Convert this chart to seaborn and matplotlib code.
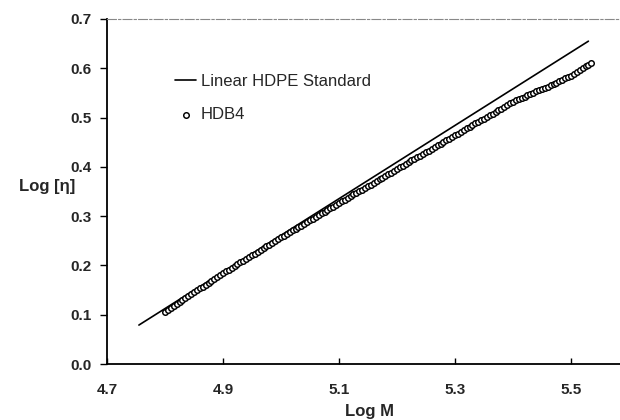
import matplotlib
matplotlib.use("Agg")
import matplotlib.pyplot as plt
import seaborn as sns
import pandas as pd

# Linear HDPE standard line (end points)
std_log_m = [4.755, 5.530]
std_log_eta = [0.079, 0.655]

# HDB4 measured points
hdb4_log_m = [
    4.800, 4.805, 4.810, 4.815, 4.820, 4.825, 4.830, 4.835, 4.840, 4.845,
    4.850, 4.855, 4.860, 4.865, 4.870, 4.875, 4.880, 4.885, 4.890, 4.895,
    4.900, 4.905, 4.910, 4.915, 4.920, 4.925, 4.930, 4.935, 4.940, 4.945,
    4.950, 4.955, 4.960, 4.965, 4.970, 4.975, 4.980, 4.985, 4.990, 4.995,
    5.000, 5.005, 5.010, 5.015, 5.020, 5.025, 5.030, 5.035, 5.040, 5.045,
    5.050, 5.055, 5.060, 5.065, 5.070, 5.075, 5.080, 5.085, 5.090, 5.095,
    5.100, 5.105, 5.110, 5.115, 5.120, 5.125, 5.130, 5.135, 5.140, 5.145,
    5.150, 5.155, 5.160, 5.165, 5.170, 5.175, 5.180, 5.185, 5.190, 5.195,
    5.200, 5.205, 5.210, 5.215, 5.220, 5.225, 5.230, 5.235, 5.240, 5.245,
    5.250, 5.255, 5.260, 5.265, 5.270, 5.275, 5.280, 5.285, 5.290, 5.295,
    5.300, 5.305, 5.310, 5.315, 5.320, 5.325, 5.330, 5.335, 5.340, 5.345,
    5.350, 5.355, 5.360, 5.365, 5.370, 5.375, 5.380, 5.385, 5.390, 5.395,
    5.400, 5.405, 5.410, 5.415, 5.420, 5.425, 5.430, 5.435, 5.440, 5.445,
    5.450, 5.455, 5.460, 5.465, 5.470, 5.475, 5.480, 5.485, 5.490, 5.495,
    5.500, 5.505, 5.510, 5.515, 5.520, 5.525, 5.530, 5.535,
]
hdb4_log_eta = [
    0.106, 0.110, 0.114, 0.118, 0.122, 0.126, 0.130, 0.134, 0.138, 0.142,
    0.146, 0.150, 0.154, 0.157, 0.161, 0.165, 0.169, 0.173, 0.176, 0.180,
    0.184, 0.188, 0.191, 0.195, 0.199, 0.202, 0.206, 0.210, 0.213, 0.217,
    0.221, 0.224, 0.228, 0.232, 0.235, 0.239, 0.242, 0.246, 0.250, 0.253,
    0.257, 0.260, 0.264, 0.267, 0.271, 0.274, 0.278, 0.281, 0.285, 0.288,
    0.292, 0.295, 0.299, 0.302, 0.306, 0.309, 0.312, 0.316, 0.319, 0.323,
    0.326, 0.330, 0.333, 0.337, 0.340, 0.344, 0.347, 0.351, 0.354, 0.358,
    0.361, 0.364, 0.368, 0.371, 0.375, 0.378, 0.381, 0.385, 0.388, 0.392,
    0.395, 0.399, 0.402, 0.406, 0.409, 0.413, 0.416, 0.420, 0.423, 0.427,
    0.430, 0.433, 0.437, 0.440, 0.444, 0.447, 0.450, 0.454, 0.457, 0.461,
    0.464, 0.467, 0.471, 0.474, 0.478, 0.481, 0.484, 0.488, 0.491, 0.495,
    0.498, 0.501, 0.505, 0.508, 0.512, 0.515, 0.518, 0.522, 0.525, 0.529,
    0.532, 0.535, 0.537, 0.540, 0.542, 0.545, 0.548, 0.550, 0.553, 0.555,
    0.558, 0.561, 0.563, 0.566, 0.569, 0.571, 0.574, 0.577, 0.580, 0.582,
    0.585, 0.589, 0.593, 0.596, 0.600, 0.604, 0.607, 0.611,
]

x_ticks = [4.7, 4.9, 5.1, 5.3, 5.5]
y_ticks = [0.0, 0.1, 0.2, 0.3, 0.4, 0.5, 0.6, 0.7]
x_label = "Log M"
y_label = "Log [η]"
std_name = "Linear HDPE Standard"
hdb4_name = "HDB4"

sns.set_theme(style="white")
plt.rcParams["font.family"] = ["Liberation Sans", "DejaVu Sans"]

fig = plt.figure(figsize=(6.2, 4.2), dpi=100)
ax = fig.add_axes([107 / 620, 1 - 364 / 420, 513 / 620, 345 / 420])

std_df = pd.DataFrame({"x": std_log_m, "y": std_log_eta})
hdb_df = pd.DataFrame({"x": hdb4_log_m, "y": hdb4_log_eta})

sns.lineplot(data=std_df, x="x", y="y", ax=ax, color="black", linewidth=1.2,
             label=std_name, legend=False)
sns.scatterplot(data=hdb_df, x="x", y="y", ax=ax, marker="o", s=16,
                facecolor="white", edgecolor="black", linewidth=1.05,
                label=hdb4_name, legend=False, zorder=3)

ax.set_xlim(4.7, 4.7 + 513 / 580)
ax.set_ylim(0.0, 0.7)
ax.set_xticks(x_ticks)
ax.set_yticks(y_ticks)
ax.set_xticklabels([f"{v:.1f}" for v in x_ticks], fontweight="bold", fontsize=11)
ax.set_yticklabels([f"{v:.1f}" for v in y_ticks], fontweight="bold", fontsize=11)
ax.tick_params(axis="x", direction="in", length=4, width=1, color="black", pad=14, bottom=True)
ax.tick_params(axis="y", direction="out", length=5, width=1, color="black", pad=6, left=True)

for side in ["left", "bottom"]:
    ax.spines[side].set_color("black")
    ax.spines[side].set_linewidth(1.3)
ax.spines["right"].set_visible(False)
ax.spines["top"].set_color("#888888")
ax.spines["top"].set_linewidth(0.8)
ax.spines["top"].set_linestyle((0, (8, 2, 2, 2)))

ax.set_xlabel(x_label, fontweight="bold", fontsize=12)
ax.xaxis.set_label_coords(0.512, -0.137)
ax.xaxis.label.set_va("center")
ax.set_ylabel(y_label, fontweight="bold", fontsize=12, rotation=0, ha="right", va="center")
ax.yaxis.set_label_coords(-0.062, 0.515)

leg = ax.legend(loc="upper left", bbox_to_anchor=(0.132, 0.842), frameon=False,
                fontsize=12, handlelength=1.3, handletextpad=0.25, labelspacing=1.12,
                borderpad=0, borderaxespad=0)
ax.grid(False)

fig.savefig("out.png", dpi=100)
